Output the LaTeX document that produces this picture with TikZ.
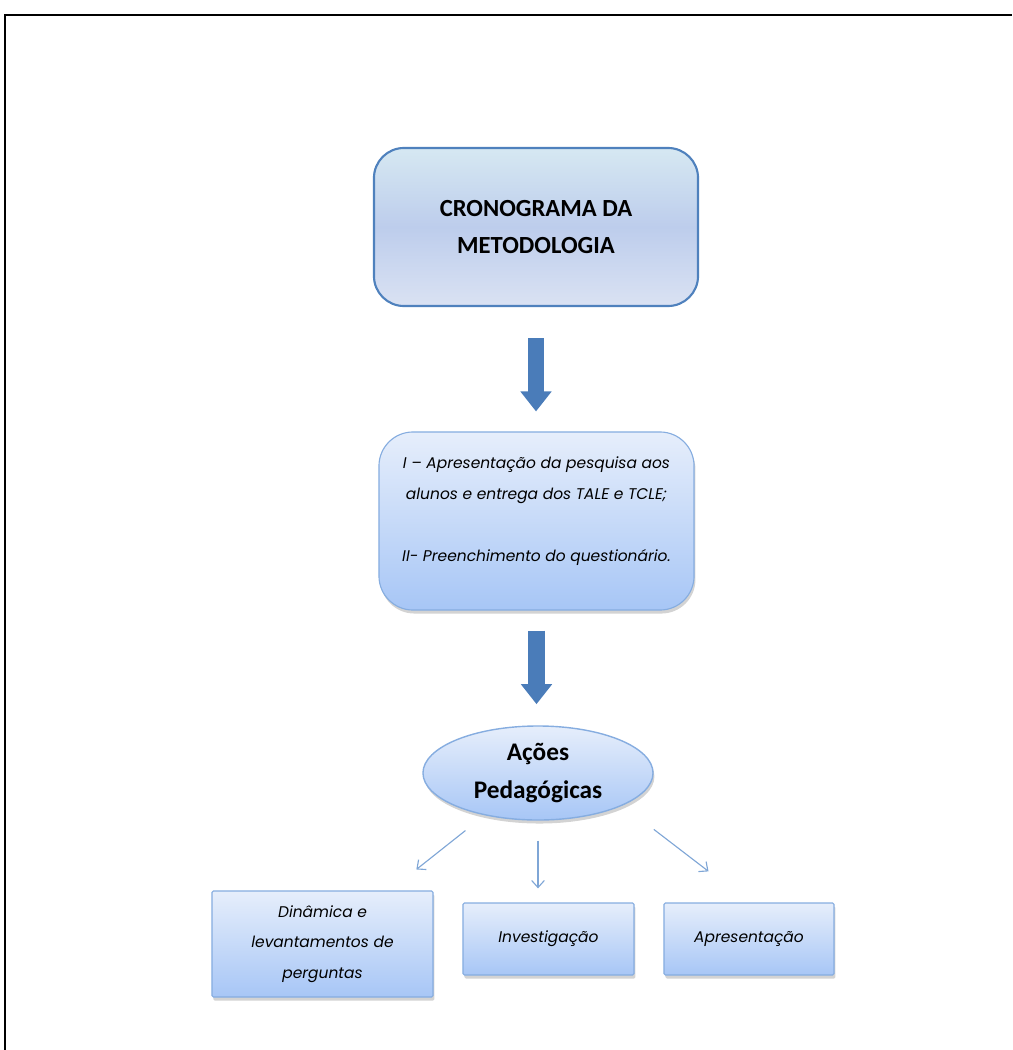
\documentclass[tikz,border=0pt]{standalone}
\usepackage{fontspec}
\setmainfont{Carlito}
\newfontfamily\gothic{Poppins}
\usetikzlibrary{shapes.geometric,arrows.meta,shadows}
\definecolor{cronoline}{HTML}{4F81BD}
\definecolor{cronotop}{HTML}{D6E8F2}
\definecolor{cronomid}{HTML}{BDCDEC}
\definecolor{cronobot}{HTML}{DAE2F3}
\definecolor{boxtop}{HTML}{E6EEFB}
\definecolor{boxbot}{HTML}{A7C6F6}
\definecolor{boxline}{HTML}{86ADE0}
\definecolor{arrowblue}{HTML}{4A7CB9}
\definecolor{thinblue}{HTML}{7FA6D6}
\begin{document}
\begin{tikzpicture}[x=0.025cm,y=-0.025cm,
    crono/.style={draw=cronoline, line width=1.5pt, rounded corners=0.75cm,
      top color=cronotop, bottom color=cronobot, middle color=cronomid,
      minimum width=8.1cm, minimum height=3.95cm, align=center,
      font=\bfseries\fontsize{17.5}{26.5}\selectfont},
    etapa/.style={draw=boxline, line width=0.8pt, rounded corners=0.85cm,
      top color=boxtop, bottom color=boxbot,
      drop shadow={shadow xshift=1pt, shadow yshift=-2.5pt, opacity=0.35, fill=gray},
      minimum width=7.875cm, minimum height=4.45cm, align=center,
      font=\gothic\itshape\fontsize{11}{22}\selectfont},
    acao/.style={ellipse, draw=boxline, line width=1pt,
      top color=boxtop, bottom color=boxbot,
      drop shadow={shadow xshift=1pt, shadow yshift=-2.5pt, opacity=0.35, fill=gray},
      minimum width=5.75cm, minimum height=2.35cm, inner sep=0pt, align=center,
      font=\bfseries\fontsize{18}{27}\selectfont},
    atividade/.style={draw=boxline, line width=0.8pt, rounded corners=1pt,
      top color=boxtop, bottom color=boxbot,
      drop shadow={shadow xshift=1pt, shadow yshift=-2.5pt, opacity=0.35, fill=gray},
      minimum height=1.8cm, align=center,
      font=\gothic\itshape\fontsize{11}{21.5}\selectfont},
    seta/.style={line width=11.4pt, draw=arrowblue,
      -{Triangle[width=21.3pt,length=14.2pt]}},
    setafina/.style={line width=0.8pt, draw=thinblue,
      -{Straight Barb[length=5pt,width=9pt]}}]
    \useasboundingbox (0,0) rectangle (1012,1050);
    \draw[line width=1.6pt] (5,1050) -- (5,15) -- (1012,15);

    \node[crono] (crono) at (536,227) {CRONOGRAMA DA\\METODOLOGIA};
    \node[etapa] (etapas) at (536.5,521)
      {\raisebox{6pt}[0pt][0pt]{\begin{tabular}{@{}c@{}}I – Apresentação da pesquisa aos\\alunos e entrega dos TALE e TCLE;\\[22pt]II- Preenchimento do questionário.\end{tabular}}};
    \node[acao] (acoes) at (538,773) {Ações\\Pedagógicas};
    \node[atividade, minimum width=5.525cm, minimum height=2.65cm] (dinamica) at (322.5,944)
      {Dinâmica e\\levantamentos de\\perguntas};
    \node[atividade, minimum width=4.275cm] (investigacao) at (548.5,939) {Investigação};
    \node[atividade, minimum width=4.25cm] (apresentacao) at (749,939) {Apresentação};

    \draw[seta, shorten <=22pt, shorten >=14.2pt] (crono.south) -- (crono.south |- etapas.north);
    \draw[seta, shorten <=14.2pt, shorten >=15pt] (etapas.south) -- (etapas.south |- acoes.north);
    \draw[setafina, shorten <=17.4pt, shorten >=24pt] (acoes) -- (dinamica);
    \draw[setafina, shorten <=14.2pt, shorten >=10pt] (acoes.south) -- (acoes.south |- investigacao.north);
    \draw[setafina, shorten <=27.9pt, shorten >=36.3pt] (acoes.-21) -- (apresentacao.north);
\end{tikzpicture}
\end{document}
